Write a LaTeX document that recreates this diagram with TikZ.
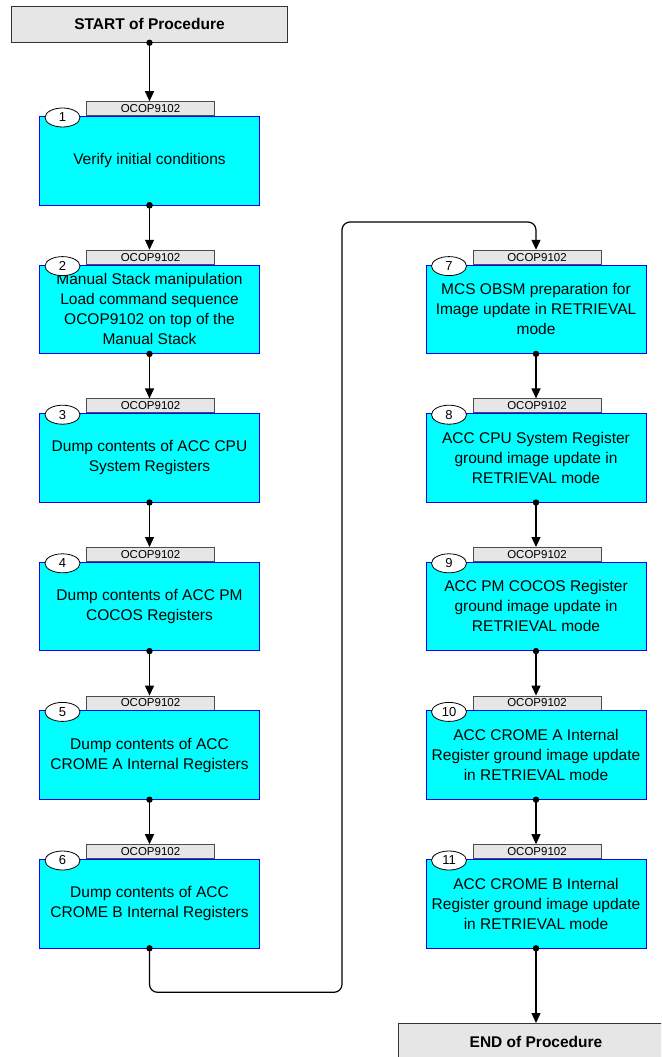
\documentclass[tikz,border=0pt]{standalone}
\usepackage{fontspec}
\setmainfont{Liberation Sans}
\usetikzlibrary{arrows.meta,shapes.geometric}
\definecolor{boxcyan}{HTML}{00FFFF}
\definecolor{tabgray}{HTML}{E6E6E6}
\newcommand\mkstep[4]{%
  \node[tabbox, anchor=south] (t#1) at (#2+1,#3) {OCOP9102};
  \node[stepbox, anchor=north] (b#1) at (#2,#3) {#4};
  \node[numell] (n#1) at (#2-87,#3+1.5) {#1};
  \fill (b#1.south) circle (3.2pt);
}
\begin{document}
\begin{tikzpicture}[x=1pt,y=-1pt,
  stepbox/.style={draw=blue, fill=boxcyan, line width=0.8pt, minimum width=220pt, minimum height=88.5pt, inner sep=0pt, align=center, font=\fontsize{15.5}{20}\selectfont},
  tabbox/.style={draw=black!70, fill=tabgray, line width=0.8pt, minimum width=128pt, minimum height=14pt, inner sep=0pt, font=\fontsize{11.5}{12}\selectfont},
  numell/.style={ellipse, draw=black, fill=white, line width=0.8pt, minimum width=35pt, minimum height=19pt, inner sep=0pt, font=\fontsize{13}{13}\selectfont},
  termbox/.style={draw=black!80, fill=tabgray, line width=0.8pt, minimum width=275.6pt, minimum height=36.3pt, inner sep=0pt, font=\bfseries\fontsize{15.5}{18}\selectfont},
  conn/.style={line width=1.2pt, -{Triangle[length=10pt,width=9pt]}}]
\useasboundingbox (0,0) rectangle (661,1057);
\clip (0,0) rectangle (661,1057);

\node[termbox] (start) at (149.5,24.2) {START of Procedure};
\fill (start.south) circle (3.2pt);

\mkstep{1}{149.5}{116}{Verify initial conditions}
\mkstep{2}{149.5}{264.6}{Manual Stack manipulation\\Load command sequence\\OCOP9102 on top of the\\Manual Stack}
\mkstep{3}{149.5}{413.2}{Dump contents of ACC CPU\\System Registers}
\mkstep{4}{149.5}{561.8}{Dump contents of ACC PM\\COCOS Registers}
\mkstep{5}{149.5}{710.4}{Dump contents of ACC\\CROME A Internal Registers}
\mkstep{6}{149.5}{859}{Dump contents of ACC\\CROME B Internal Registers}

\mkstep{7}{536}{264.6}{MCS OBSM preparation for\\Image update in RETRIEVAL\\mode}
\mkstep{8}{536}{413.2}{ACC CPU System Register\\ground image update in\\RETRIEVAL mode}
\mkstep{9}{536}{561.8}{ACC PM COCOS Register\\ground image update in\\RETRIEVAL mode}
\mkstep{10}{536}{710.4}{ACC CROME A Internal\\Register ground image update\\in RETRIEVAL mode}
\mkstep{11}{536}{859}{ACC CROME B Internal\\Register ground image update\\in RETRIEVAL mode}

\node[termbox, anchor=north] (end) at (536,1023) {END of Procedure};

\draw[conn] (start.south) -- (start.south |- t1.north);
\draw[conn] (b1.south) -- (b1.south |- t2.north);
\draw[conn] (b2.south) -- (b2.south |- t3.north);
\draw[conn] (b3.south) -- (b3.south |- t4.north);
\draw[conn] (b4.south) -- (b4.south |- t5.north);
\draw[conn] (b5.south) -- (b5.south |- t6.north);
\draw[conn] (b7.south) -- (b7.south |- t8.north);
\draw[conn] (b8.south) -- (b8.south |- t9.north);
\draw[conn] (b9.south) -- (b9.south |- t10.north);
\draw[conn] (b10.south) -- (b10.south |- t11.north);
\draw[conn] (b11.south) -- (end.north);

\coordinate (c1) at (342,992.3);
\coordinate (c2) at (342,222);
\draw[conn, rounded corners=8pt] (b6.south) |- (c1) -- (c2) -| (b7.north |- t7.north);

\fill (b1.south) circle (3.2pt);
\end{tikzpicture}
\end{document}
